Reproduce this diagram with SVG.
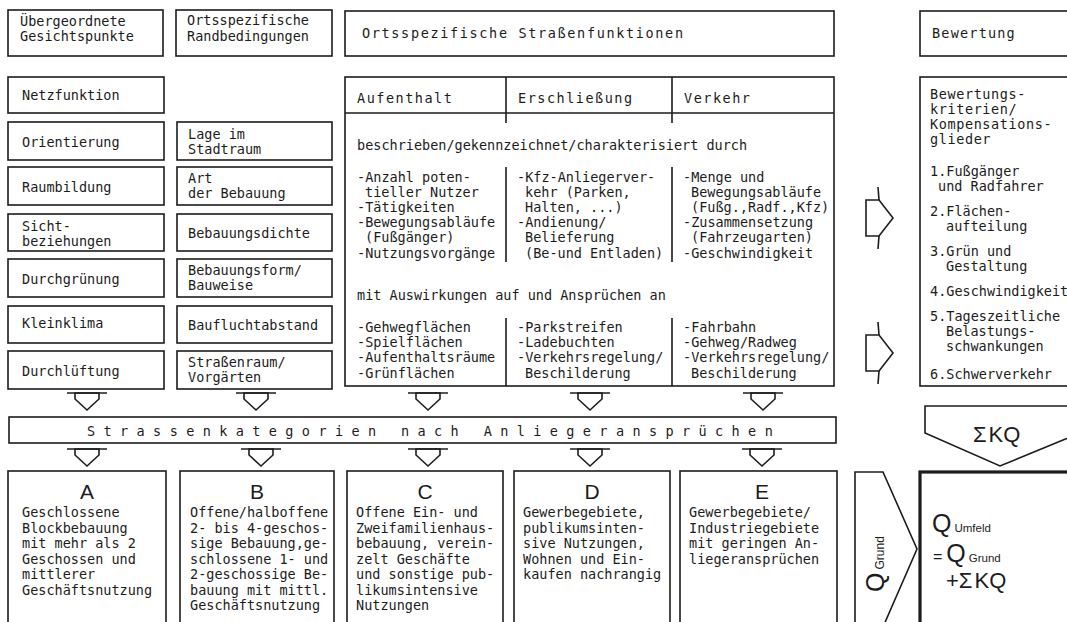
<svg xmlns="http://www.w3.org/2000/svg" width="1067" height="622" viewBox="0 0 1067 622">
<style>
.b{fill:#fff;stroke:#1c1c1c;stroke-width:1.6}
.thick{fill:#fff;stroke:#1c1c1c;stroke-width:3.2}
.l{fill:none;stroke:#1c1c1c;stroke-width:1.6}
.t{font-family:"DejaVu Sans Mono","Liberation Mono",monospace;font-size:13.5px;fill:#1c1c1c}
.sp{letter-spacing:1.5px}
.s{font-family:"Liberation Sans",Arial,sans-serif;fill:#1c1c1c}
.cat{font-family:"Liberation Sans",Arial,sans-serif;font-size:21px;fill:#1c1c1c;text-anchor:middle}
</style>
<defs>
<g id="da"><path class="b" d="M-12,0 V6 L0,17 L12,6 V0 Z"/><path class="l" d="M-20,0 H20"/></g>
<g id="ra"><path class="b" d="M0,-18 H13 L27,0 L13,18 H0 Z"/><path class="l" d="M13,-18 L12,-31 M13,18 L12,31"/></g>
</defs>
<rect x="0" y="0" width="1067" height="622" fill="#fff"/>

<!-- top row -->
<g id="n-uebergeordnete"><rect class="b" x="8" y="10" width="155" height="46"/><text class="t" x="20" y="26">Übergeordnete</text><text class="t" x="20" y="41">Gesichtspunkte</text></g>
<g id="n-randbedingungen"><rect class="b" x="176" y="10" width="156" height="46"/><text class="t" x="187" y="25">Ortsspezifische</text><text class="t" x="187" y="41">Randbedingungen</text></g>
<g id="n-strassenfunktionen-titel"><rect class="b" x="345" y="11" width="489" height="45"/><text class="t" x="362" y="38" style="letter-spacing:1.65px">Ortsspezifische Straßenfunktionen</text></g>
<g id="n-bewertung-titel"><rect class="b" x="920" y="11" width="160" height="45"/><text class="t" x="932" y="38" style="letter-spacing:1.2px">Bewertung</text></g>

<!-- left column -->
<g id="n-netzfunktion"><rect class="b" x="8" y="77" width="156" height="36"/><text class="t" x="22" y="100">Netzfunktion</text></g>
<g id="n-orientierung"><rect class="b" x="8" y="122" width="156" height="38"/><text class="t" x="22" y="147">Orientierung</text></g>
<g id="n-raumbildung"><rect class="b" x="8" y="167" width="156" height="38"/><text class="t" x="22" y="192">Raumbildung</text></g>
<g id="n-sichtbeziehungen"><rect class="b" x="8" y="214" width="156" height="37"/><text class="t" x="22" y="231">Sicht-</text><text class="t" x="22" y="246">beziehungen</text></g>
<g id="n-durchgruenung"><rect class="b" x="8" y="259" width="156" height="38"/><text class="t" x="22" y="284">Durchgrünung</text></g>
<g id="n-kleinklima"><rect class="b" x="8" y="306" width="156" height="37"/><text class="t" x="22" y="328">Kleinklima</text></g>
<g id="n-durchlueftung"><rect class="b" x="8" y="351" width="156" height="38"/><text class="t" x="22" y="376">Durchlüftung</text></g>

<!-- second column -->
<g id="n-lage"><rect class="b" x="177" y="122" width="155" height="38"/><text class="t" x="188" y="139">Lage im</text><text class="t" x="188" y="154">Stadtraum</text></g>
<g id="n-art"><rect class="b" x="177" y="167" width="155" height="38"/><text class="t" x="188" y="183">Art</text><text class="t" x="188" y="198">der Bebauung</text></g>
<g id="n-dichte"><rect class="b" x="177" y="214" width="155" height="37"/><text class="t" x="188" y="238">Bebauungsdichte</text></g>
<g id="n-form"><rect class="b" x="177" y="259" width="155" height="38"/><text class="t" x="188" y="275">Bebauungsform/</text><text class="t" x="188" y="290">Bauweise</text></g>
<g id="n-bauflucht"><rect class="b" x="177" y="306" width="155" height="37"/><text class="t" x="188" y="330">Baufluchtabstand</text></g>
<g id="n-strassenraum"><rect class="b" x="177" y="351" width="155" height="38"/><text class="t" x="188" y="367">Straßenraum/</text><text class="t" x="188" y="382">Vorgärten</text></g>

<!-- Strassenfunktionen table -->
<g id="n-strassenfunktionen">
<rect class="b" x="345" y="77" width="489" height="309"/>
<path class="l" d="M345,113 H834 M506,77 V123 M672,77 V123 M506,167 V262 M672,167 V262 M506,318 V386 M672,318 V386"/>
<text class="t sp" x="357" y="103">Aufenthalt</text>
<text class="t sp" x="518" y="103">Erschließung</text>
<text class="t sp" x="684" y="103">Verkehr</text>
<text class="t" x="357" y="150">beschrieben/gekennzeichnet/charakterisiert durch</text>
<text class="t" x="357" y="182">-Anzahl poten-</text>
<text class="t" x="365" y="197">tieller Nutzer</text>
<text class="t" x="357" y="212">-Tätigkeiten</text>
<text class="t" x="357" y="227">-Bewegungsabläufe</text>
<text class="t" x="365" y="242">(Fußgänger)</text>
<text class="t" x="357" y="258">-Nutzungsvorgänge</text>
<text class="t" x="517" y="182">-Kfz-Anliegerver-</text>
<text class="t" x="525" y="197">kehr (Parken,</text>
<text class="t" x="525" y="212">Halten, ...)</text>
<text class="t" x="517" y="227">-Andienung/</text>
<text class="t" x="525" y="242">Belieferung</text>
<text class="t" x="525" y="258">(Be-und Entladen)</text>
<text class="t" x="683" y="182">-Menge und</text>
<text class="t" x="691" y="197">Bewegungsabläufe</text>
<text class="t" x="691" y="212">(Fußg.,Radf.,Kfz)</text>
<text class="t" x="683" y="227">-Zusammensetzung</text>
<text class="t" x="691" y="242">(Fahrzeugarten)</text>
<text class="t" x="683" y="258">-Geschwindigkeit</text>
<text class="t" x="357" y="300">mit Auswirkungen auf und Ansprüchen an</text>
<text class="t" x="357" y="332">-Gehwegflächen</text>
<text class="t" x="357" y="347">-Spielflächen</text>
<text class="t" x="357" y="362">-Aufenthaltsräume</text>
<text class="t" x="357" y="378">-Grünflächen</text>
<text class="t" x="517" y="332">-Parkstreifen</text>
<text class="t" x="517" y="347">-Ladebuchten</text>
<text class="t" x="517" y="362">-Verkehrsregelung/</text>
<text class="t" x="525" y="378">Beschilderung</text>
<text class="t" x="683" y="332">-Fahrbahn</text>
<text class="t" x="683" y="347">-Gehweg/Radweg</text>
<text class="t" x="683" y="362">-Verkehrsregelung/</text>
<text class="t" x="691" y="378">Beschilderung</text>
</g>

<!-- Bewertung criteria -->
<g id="n-bewertungskriterien">
<rect class="b" x="920" y="77" width="160" height="309"/>
<text class="t" x="930" y="99" style="letter-spacing:0.6px">Bewertungs-</text>
<text class="t" x="930" y="114" style="letter-spacing:0.6px">kriterien/</text>
<text class="t" x="930" y="129" style="letter-spacing:0.6px">Kompensations-</text>
<text class="t" x="930" y="144" style="letter-spacing:0.6px">glieder</text>
<text class="t" x="930" y="176">1.Fußgänger</text>
<text class="t" x="938" y="191">und Radfahrer</text>
<text class="t" x="930" y="216">2.Flächen-</text>
<text class="t" x="946" y="231">aufteilung</text>
<text class="t" x="930" y="256">3.Grün und</text>
<text class="t" x="946" y="271">Gestaltung</text>
<text class="t" x="930" y="296">4.Geschwindigkeit</text>
<text class="t" x="930" y="321">5.Tageszeitliche</text>
<text class="t" x="946" y="336">Belastungs-</text>
<text class="t" x="946" y="351">schwankungen</text>
<text class="t" x="930" y="379">6.Schwerverkehr</text>
</g>

<!-- Strassenkategorien bar -->
<g id="n-strassenkategorien"><rect class="b" x="9" y="417" width="827" height="26"/><text class="t" x="87" y="436" style="letter-spacing:8.4px">Strassenkategorien nach Anliegeransprüchen</text></g>

<!-- categories -->
<g id="n-kat-a"><rect class="b" x="8" y="471" width="158" height="170"/><text class="cat" x="87" y="499">A</text>
<text class="t" x="22" y="517">Geschlossene</text><text class="t" x="22" y="532.5">Blockbebauung</text><text class="t" x="22" y="548">mit mehr als 2</text><text class="t" x="22" y="563.5">Geschossen und</text><text class="t" x="22" y="579">mittlerer</text><text class="t" x="22" y="594.5">Geschäftsnutzung</text></g>
<g id="n-kat-b"><rect class="b" x="180" y="471" width="154" height="170"/><text class="cat" x="257" y="499">B</text>
<text class="t" x="190" y="517">Offene/halboffene</text><text class="t" x="190" y="532.5">2- bis 4-geschos-</text><text class="t" x="190" y="548">sige Bebauung,ge-</text><text class="t" x="190" y="563.5">schlossene 1- und</text><text class="t" x="190" y="579">2-geschossige Be-</text><text class="t" x="190" y="594.5">bauung mit mittl.</text><text class="t" x="190" y="610">Geschäftsnutzung</text></g>
<g id="n-kat-c"><rect class="b" x="347" y="471" width="156" height="170"/><text class="cat" x="425" y="499">C</text>
<text class="t" x="356" y="517">Offene Ein- und</text><text class="t" x="356" y="532.5">Zweifamilienhaus-</text><text class="t" x="356" y="548">bebauung, verein-</text><text class="t" x="356" y="563.5">zelt Geschäfte</text><text class="t" x="356" y="579">und sonstige pub-</text><text class="t" x="356" y="594.5">likumsintensive</text><text class="t" x="356" y="610">Nutzungen</text></g>
<g id="n-kat-d"><rect class="b" x="514" y="471" width="156" height="170"/><text class="cat" x="592" y="499">D</text>
<text class="t" x="523" y="517">Gewerbegebiete,</text><text class="t" x="523" y="532.5">publikumsinten-</text><text class="t" x="523" y="548">sive Nutzungen,</text><text class="t" x="523" y="563.5">Wohnen und Ein-</text><text class="t" x="523" y="579">kaufen nachrangig</text></g>
<g id="n-kat-e"><rect class="b" x="680" y="471" width="157" height="170"/><text class="cat" x="762" y="499">E</text>
<text class="t" x="689" y="517">Gewerbegebiete/</text><text class="t" x="689" y="532.5">Industriegebiete</text><text class="t" x="689" y="548">mit geringen An-</text><text class="t" x="689" y="563.5">liegeransprüchen</text></g>

<!-- sum KQ -->
<g id="n-summe-kq"><path class="b" d="M925,406 H1080 V433 L1000,466 L925,433 Z"/><text class="s" x="973" y="442" font-size="22">Σ<tspan dx="2">KQ</tspan></text></g>

<!-- Q Grund -->
<g id="n-q-grund"><path class="b" d="M855,472 H883 L917,549 L883,627 H855 Z"/><text class="s" transform="translate(884,592) rotate(-90)"><tspan font-size="25">Q</tspan><tspan font-size="12" dx="3">Grund</tspan></text></g>

<!-- result -->
<g id="n-q-umfeld"><rect class="thick" x="920" y="472" width="160" height="170"/>
<text class="s" x="932" y="532"><tspan font-size="25">Q</tspan><tspan font-size="11.5" dx="3">Umfeld</tspan></text>
<text class="s" x="933" y="562"><tspan font-size="16">=</tspan><tspan font-size="25" dx="4">Q</tspan><tspan font-size="11.5" dx="3">Grund</tspan></text>
<text class="s" x="946" y="588" font-size="22">+Σ<tspan dx="2">KQ</tspan></text>
</g>

<!-- connectors -->
<g id="connectors">
<use href="#da" x="87" y="393"/><use href="#da" x="256" y="393"/><use href="#da" x="428" y="393"/><use href="#da" x="590" y="393"/><use href="#da" x="763" y="393"/>
<use href="#da" x="87" y="449"/><use href="#da" x="261" y="449"/><use href="#da" x="428" y="449"/><use href="#da" x="590" y="449"/><use href="#da" x="762" y="449"/>
<use href="#ra" x="866" y="218"/><use href="#ra" x="866" y="353"/>
</g>
</svg>
